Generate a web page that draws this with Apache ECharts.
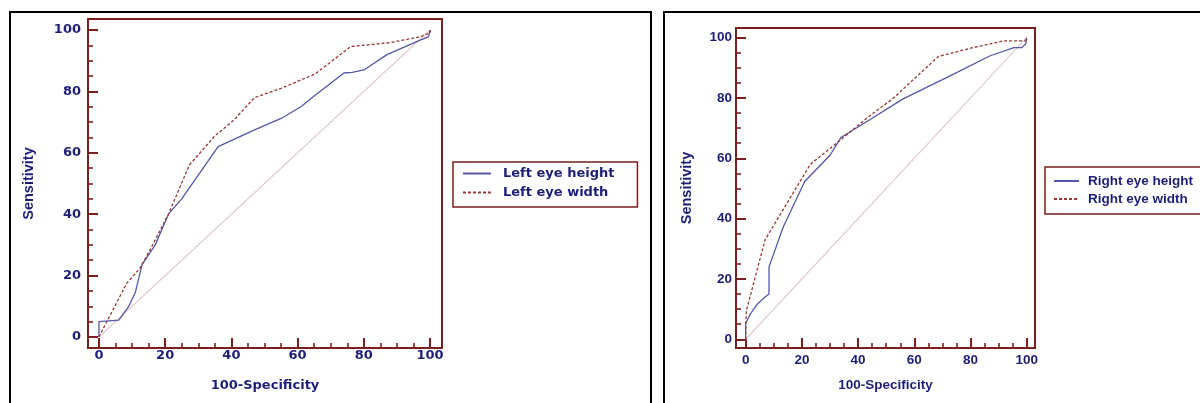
<!DOCTYPE html>
<html>
<head>
<meta charset="utf-8">
<script src="https://cdn.jsdelivr.net/npm/echarts@6/dist/echarts.min.js"></script>
<style>
  html, body { margin: 0; padding: 0; background: #fff; }
  #chart { width: 1200px; height: 403px; }
</style>
</head>
<body>
<div id="chart"></div>
<script>
// ---- data ----
const majorTicks = [0, 20, 40, 60, 80, 100];
const minorTicks = [5, 10, 15, 25, 30, 35, 45, 50, 55, 65, 70, 75, 85, 90, 95];
const diagonal = [[0, 0], [100, 100]];

const leftHeight = [[0,0],[0,5],[6,5.5],[9,10],[11,14.5],[13,23.5],[17,30],[21,40],[25,45],[36,62],[47,67.5],[55,71.2],[61,75],[65,78.5],[74,86],[76.5,86.2],[80,87],[87,92],[97,96.7],[99.5,97.8],[100,100]];
const leftWidth = [[0,0],[8.4,17.5],[12.4,22.4],[15.4,28.3],[21,40],[27.3,56],[35,65.5],[40.6,70.5],[47,78],[55,81],[65.3,85.7],[76,94.6],[88,95.9],[97,97.8],[100,99.1],[100,100]];

const rightHeight = [[0,0],[0,5.3],[1.8,8.6],[4,11.5],[6.9,14],[8.3,15],[8.3,24],[13.4,37.3],[21,52.3],[30,61],[34,67],[44,72.7],[56,79.7],[72,87],[87,94],[95.5,96.7],[98.2,96.7],[99.7,98],[100,100]];
const rightWidth = [[0,0],[0,4.5],[0.3,9.7],[6.9,33],[23,58],[33,65.5],[44,74],[52,79.5],[68.5,93.7],[80,96.5],[91.7,98.9],[99.4,98.9],[100,100]];

const seriesNames = ['Left eye height', 'Left eye width', 'Right eye height', 'Right eye width'];
const xName = '100-Specificity';
const yName = 'Sensitivity';

// ---- styles ----
const AXIS = '#7a1e1e';
const TEXT = '#1e1e78';
const BLUE = '#5656a6';
const RED = '#963838';
const DIAG = '#e0cccc';

function axisPair(dim, gridIndex, min, max, font, labelMargin, nameGap) {
  const pos = dim === 'x' ? 'bottom' : 'left';
  const main = {
    type: 'value', gridIndex, min, max, position: pos,
    axisLine: { show: true, onZero: false, lineStyle: { color: AXIS, width: 2 } },
    axisTick: { show: true, inside: true, length: 10, customValues: majorTicks, lineStyle: { color: AXIS, width: 2 } },
    axisLabel: { show: true, customValues: majorTicks, margin: labelMargin, color: TEXT,
      fontFamily: font.family, fontWeight: 'bold', fontSize: font.size },
    splitLine: { show: false },
    name: dim === 'x' ? xName : yName,
    nameLocation: 'middle', nameGap,
    nameTextStyle: dim === 'x'
      ? { color: TEXT, fontFamily: font.family, fontWeight: 'bold', fontSize: font.nameSize }
      : { color: TEXT, fontFamily: 'Liberation Sans', fontWeight: 'bold', fontSize: 14.5 }
  };
  const minor = {
    type: 'value', gridIndex, min, max, position: pos,
    axisLine: { show: false, onZero: false },
    axisTick: { show: true, inside: true, length: 5, customValues: minorTicks, lineStyle: { color: AXIS, width: 1.6 } },
    axisLabel: { show: false },
    splitLine: { show: false }
  };
  return [main, minor];
}

const leftFont = { family: 'DejaVu Sans', size: 13, nameSize: 13 };
const rightFont = { family: 'Liberation Sans', size: 13.5, nameSize: 13.5 };

const xAxes = [
  ...axisPair('x', 0, -3.3, 103.6, leftFont, 1, 31),
  ...axisPair('x', 1, -3.45, 102.95, rightFont, 5, 30)
];
const yAxes = [
  ...axisPair('y', 0, -3.6, 103.6, leftFont, 7, 52),
  ...axisPair('y', 1, -2.9, 103.2, rightFont, 4, 42)
];

function lineSeries(name, data, xi, yi, color, dashed) {
  return {
    name, type: 'line', data, xAxisIndex: xi, yAxisIndex: yi,
    symbol: 'none', showSymbol: false, silent: true, animation: false, z: 3,
    lineStyle: { color, width: 1.3, type: dashed ? [3, 2] : 'solid' },
    itemStyle: { color }
  };
}
function diagSeries(xi, yi) {
  return {
    type: 'line', data: diagonal, xAxisIndex: xi, yAxisIndex: yi,
    symbol: 'none', silent: true, animation: false, z: 1,
    lineStyle: { color: DIAG, width: 1.2 }
  };
}

const legendItemStyle = { color: 'rgba(0,0,0,0)', borderWidth: 0, opacity: 0 };

const chart = echarts.init(document.getElementById('chart'), null, { renderer: 'canvas' });
chart.setOption({
  animation: false,
  backgroundColor: '#fff',
  graphic: [
    { type: 'rect', shape: { x: 10, y: 12, width: 641, height: 400 }, style: { fill: null, stroke: '#000', lineWidth: 2 }, silent: true },
    { type: 'rect', shape: { x: 664, y: 12, width: 560, height: 400 }, style: { fill: null, stroke: '#000', lineWidth: 2 }, silent: true }
  ],
  grid: [
    { left: 88, top: 19, width: 354, height: 329, show: true, borderColor: AXIS, borderWidth: 2, backgroundColor: '#fff' },
    { left: 736, top: 28, width: 299, height: 320, show: true, borderColor: AXIS, borderWidth: 2, backgroundColor: '#fff' }
  ],
  legend: [
    {
      data: [seriesNames[0], seriesNames[1]],
      orient: 'vertical', left: 453, top: 162,
      itemWidth: 28, itemHeight: 14, itemGap: 6, itemTextGap: 12,
      padding: [5, 23, 8, 9],
      itemStyle: legendItemStyle,
      borderColor: AXIS, borderWidth: 1.5, backgroundColor: '#fff',
      textStyle: { color: TEXT, fontFamily: 'DejaVu Sans', fontWeight: 'bold', fontSize: 13, padding: [0, 0, 0, 7] },
      selectedMode: false
    },
    {
      data: [seriesNames[2], seriesNames[3]],
      orient: 'vertical', left: 1045, top: 167,
      itemWidth: 25, itemHeight: 13, itemGap: 4, itemTextGap: 10,
      padding: [7, 10, 8, 8],
      itemStyle: legendItemStyle,
      borderColor: AXIS, borderWidth: 1.5, backgroundColor: '#fff',
      textStyle: { color: TEXT, fontFamily: 'Liberation Sans', fontWeight: 'bold', fontSize: 13.5, padding: [0, 0, 0, 4] },
      selectedMode: false
    }
  ],
  xAxis: xAxes,
  yAxis: yAxes,
  series: [
    diagSeries(0, 0),
    lineSeries(seriesNames[0], leftHeight, 0, 0, BLUE, false),
    lineSeries(seriesNames[1], leftWidth, 0, 0, RED, true),
    diagSeries(2, 2),
    lineSeries(seriesNames[2], rightHeight, 2, 2, BLUE, false),
    lineSeries(seriesNames[3], rightWidth, 2, 2, RED, true)
  ]
});
</script>
</body>
</html>
